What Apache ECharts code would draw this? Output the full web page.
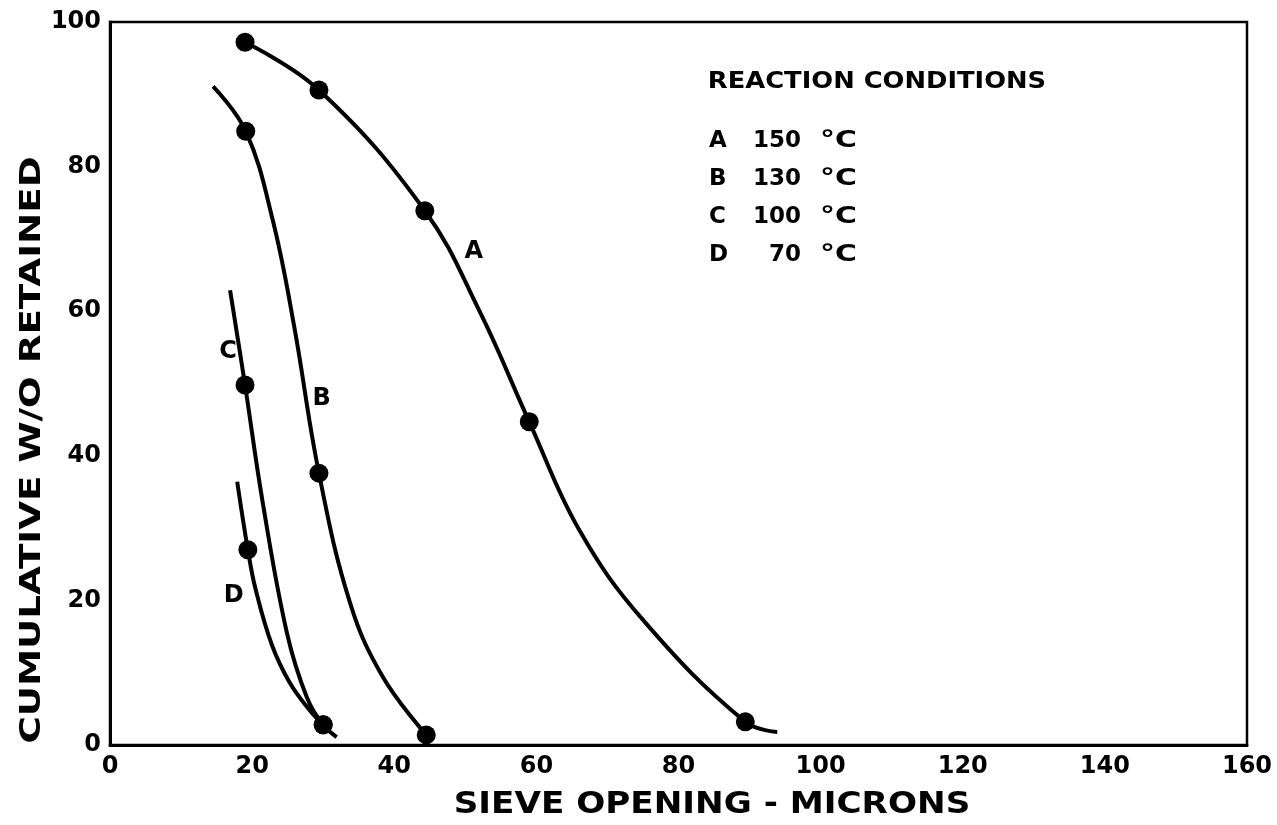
<!DOCTYPE html>
<html>
<head>
<meta charset="utf-8">
<script src="https://cdn.jsdelivr.net/npm/echarts@6/dist/echarts.min.js"></script>
<style>
html,body{margin:0;padding:0;background:#fff;}
#chart{width:1277px;height:825px;}
</style>
</head>
<body>
<div id="chart"></div>
<script>
// Measured points (markers) for each reaction condition
const pointsA = [[19.0, 97.2], [29.4, 90.6], [44.3, 73.9], [59.0, 44.7], [89.4, 3.2]];
const pointsB = [[19.1, 84.9], [29.4, 37.6], [44.5, 1.4]];
const pointsC = [[19.0, 49.8], [30.0, 2.8]];
const pointsD = [[19.4, 27.0], [30.0, 2.8]];

// Hand-drawn curves
const curveA = [[19.0, 97.2], [29.4, 90.6], [44.3, 73.9], [52.0, 60.0],
  [59.0, 44.7], [66.0, 29.8], [75.0, 17.3], [89.4, 3.2], [93.9, 1.8]];
const curveB = [[14.5, 91.1], [19.1, 84.9], [22.9, 72.6], [25.9, 58.0], [29.4, 37.6],
  [33.8, 19.6], [38.4, 9.4], [44.5, 1.4]];
const curveC = [[16.9, 62.9], [19.0, 49.8], [21.5, 33.5], [24.9, 15.5],
  [27.7, 6.6], [30.0, 2.8], [31.9, 1.1]];
const curveD = [[17.9, 36.4], [19.4, 27.0], [20.5, 21.5], [22.8, 13.8], [25.3, 8.6], [28.1, 4.8], [30.0, 2.8]];

// Curve labels
const curveLabels = [[51.2, 68.2, 'A'], [29.8, 47.9, 'B'], [16.6, 54.4, 'C'], [17.4, 20.7, 'D']];

// Legend block
const legendTitle = 'REACTION CONDITIONS';
const legendLetters = ['A', 'B', 'C', 'D'];
const legendTemps = ['150', '130', '100', '70'];

const xTitle = 'SIEVE OPENING - MICRONS';
const yTitle = 'CUMULATIVE W/O RETAINED';

const FONT = 'DejaVu Sans';
const f = (size) => 'bold ' + size + 'px "' + FONT + '"';

const chart = echarts.init(document.getElementById('chart'));

function curveSeries(name, data) {
  return {
    name: name, type: 'line', data: data, smooth: 0.4, symbol: 'none',
    lineStyle: { color: '#000', width: 4 }, z: 3, silent: true
  };
}
function pointSeries(name, data) {
  return {
    name: name, type: 'scatter', data: data, symbol: 'circle', symbolSize: 19,
    itemStyle: { color: '#000', opacity: 1 }, z: 4, silent: true
  };
}

const legendRowsY = [141, 179, 217, 255];
const graphics = [
  { type: 'text', x: 877, y: 82, scaleX: 1.12,
    style: { text: legendTitle, font: f(23), fill: '#000', align: 'center', verticalAlign: 'middle' } },
  { type: 'text', x: 712, y: 805, scaleX: 1.14,
    style: { text: xTitle, font: f(30), fill: '#000', align: 'center', verticalAlign: 'middle' } },
  { type: 'text', x: 33, y: 450, rotation: Math.PI / 2, scaleX: 1.33,
    style: { text: yTitle, font: f(28), fill: '#000', align: 'center', verticalAlign: 'middle' } }
];
legendLetters.forEach((l, i) => {
  graphics.push({ type: 'text', x: 709, y: legendRowsY[i],
    style: { text: l, font: f(23), fill: '#000', verticalAlign: 'middle' } });
  graphics.push({ type: 'text', x: 801, y: legendRowsY[i],
    style: { text: legendTemps[i], font: f(23), fill: '#000', align: 'right', verticalAlign: 'middle' } });
  graphics.push({ type: 'text', x: 820, y: legendRowsY[i], scaleX: 1.3,
    style: { text: '°C', font: f(23), fill: '#000', verticalAlign: 'middle' } });
});

chart.setOption({
  backgroundColor: '#fff',
  animation: false,
  grid: { left: 110, right: 30, top: 22, bottom: 80, show: true, borderColor: '#000', borderWidth: 2.5 },
  xAxis: {
    type: 'value', min: 0, max: 160, interval: 20,
    axisLine: { show: true, lineStyle: { color: '#000', width: 3 } },
    axisTick: { show: false },
    splitLine: { show: false },
    axisLabel: { fontFamily: FONT, fontWeight: 'bold', fontSize: 24, color: '#000', margin: 10 }
  },
  yAxis: {
    type: 'value', min: 0, max: 100, interval: 20,
    axisLine: { show: true, lineStyle: { color: '#000', width: 3 } },
    axisTick: { show: false },
    splitLine: { show: false },
    axisLabel: { fontFamily: FONT, fontWeight: 'bold', fontSize: 24, color: '#000', margin: 9 }
  },
  graphic: graphics,
  series: [
    curveSeries('A', curveA), curveSeries('B', curveB), curveSeries('C', curveC), curveSeries('D', curveD),
    pointSeries('A pts', pointsA), pointSeries('B pts', pointsB), pointSeries('C pts', pointsC), pointSeries('D pts', pointsD),
    {
      name: 'labels', type: 'scatter', data: curveLabels, symbolSize: 1,
      itemStyle: { color: 'rgba(255,255,255,0)', opacity: 1 }, silent: true, z: 5,
      label: { show: true, position: 'inside', formatter: p => p.value[2], opacity: 1,
        fontFamily: FONT, fontWeight: 'bold', fontSize: 24, color: '#000' }
    }
  ]
});
</script>
</body>
</html>
